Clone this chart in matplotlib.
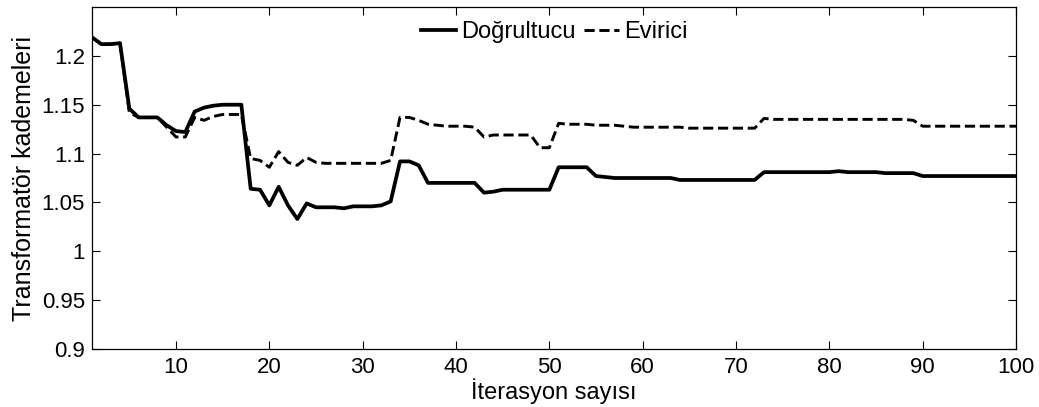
import numpy as np
import matplotlib
matplotlib.use("Agg")
import matplotlib.pyplot as plt

plt.rcParams['font.family'] = ['Liberation Sans', 'DejaVu Sans']

iterations = np.arange(1, 101)

# Doğrultucu (rectifier) transformer tap values
dogrultucu = [1.219, 1.212, 1.212, 1.213, 1.146, 1.137, 1.137, 1.137, 1.129, 1.123,
              1.122, 1.143, 1.147, 1.149, 1.150, 1.150, 1.150, 1.064, 1.063, 1.047,
              1.066, 1.047, 1.033, 1.049, 1.045, 1.045, 1.045, 1.044, 1.046, 1.046,
              1.046, 1.047, 1.051, 1.092, 1.092, 1.088, 1.070, 1.070, 1.070, 1.070,
              1.070, 1.070, 1.060, 1.061, 1.063, 1.063, 1.063, 1.063, 1.063, 1.063,
              1.086, 1.086, 1.086, 1.086, 1.077, 1.076, 1.075, 1.075, 1.075, 1.075,
              1.075, 1.075, 1.075, 1.073, 1.073, 1.073, 1.073, 1.073, 1.073, 1.073,
              1.073, 1.073, 1.081, 1.081, 1.081, 1.081, 1.081, 1.081, 1.081, 1.081,
              1.082, 1.081, 1.081, 1.081, 1.081, 1.080, 1.080, 1.080, 1.080, 1.077,
              1.077, 1.077, 1.077, 1.077, 1.077, 1.077, 1.077, 1.077, 1.077, 1.077]

# Evirici (inverter) transformer tap values
evirici = [1.219, 1.212, 1.212, 1.213, 1.142, 1.137, 1.137, 1.137, 1.127, 1.117,
           1.117, 1.137, 1.134, 1.138, 1.140, 1.140, 1.140, 1.095, 1.093, 1.086,
           1.102, 1.091, 1.088, 1.096, 1.091, 1.090, 1.090, 1.090, 1.090, 1.090,
           1.090, 1.090, 1.093, 1.137, 1.137, 1.134, 1.130, 1.129, 1.128, 1.128,
           1.128, 1.127, 1.117, 1.119, 1.119, 1.119, 1.119, 1.119, 1.106, 1.106,
           1.131, 1.130, 1.130, 1.130, 1.129, 1.129, 1.129, 1.128, 1.127, 1.127,
           1.127, 1.127, 1.127, 1.127, 1.126, 1.126, 1.126, 1.126, 1.126, 1.126,
           1.126, 1.126, 1.136, 1.135, 1.135, 1.135, 1.135, 1.135, 1.135, 1.135,
           1.135, 1.135, 1.135, 1.135, 1.135, 1.135, 1.135, 1.135, 1.134, 1.128,
           1.128, 1.128, 1.128, 1.128, 1.128, 1.128, 1.128, 1.128, 1.128, 1.128]

xticks = [10, 20, 30, 40, 50, 60, 70, 80, 90, 100]
yticks = [0.9, 0.95, 1.0, 1.05, 1.1, 1.15, 1.2]
ytick_labels = ['0.9', '0.95', '1', '1.05', '1.1', '1.15', '1.2']

fig = plt.figure(figsize=(10.39, 4.07), dpi=100)
# axes box: x 92..1016 px, y 7..349 px
ax = fig.add_axes([92 / 1039, 1 - 349 / 407, 924 / 1039, 342 / 407])

ax.plot(iterations, dogrultucu, '-', color='black', linewidth=2.7, label='Doğrultucu')
ax.plot(iterations, evirici, '--', color='black', linewidth=2.1, dashes=(3.5, 1.6), label='Evirici')

ax.set_xlim(1, 100)
ax.set_ylim(0.9, 1.25)
ax.set_xticks(xticks)
ax.set_yticks(yticks)
ax.set_yticklabels(ytick_labels)
ax.tick_params(direction='in', top=True, right=True, labelsize=16, length=6, width=0.8)
ax.tick_params(axis='x', pad=6)
ax.tick_params(axis='y', pad=5)
for s in ax.spines.values():
    s.set_linewidth(0.9)

ax.set_xlabel('İterasyon sayısı', fontsize=17, labelpad=0)
ax.set_ylabel('Transformatör kademeleri', fontsize=18, labelpad=4)

ax.legend(loc='upper center', ncol=2, frameon=False, fontsize=17,
          handlelength=1.5, handletextpad=0.2, columnspacing=0.35,
          borderaxespad=0.0, borderpad=0.3, bbox_to_anchor=(0.5, 0.98))

fig.savefig('out.png', dpi=100)
